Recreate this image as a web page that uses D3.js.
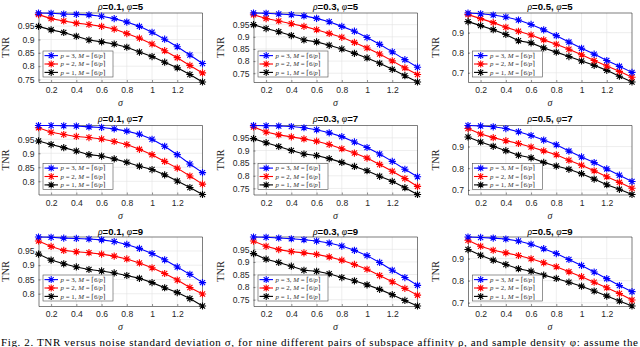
<!DOCTYPE html>
<html><head><meta charset="utf-8">
<script src="https://cdn.jsdelivr.net/npm/d3@7"></script>
<style>body{margin:0;background:#fff;} svg{display:block;}</style>
</head><body>
<svg id="c" width="640" height="347"></svg>
<script>
// ---------- data ----------
const sigma = [0.1,0.2,0.3,0.4,0.5,0.6,0.7,0.8,0.9,1.0,1.1,1.2,1.3,1.4];
const xTicks = [0.2,0.4,0.6,0.8,1,1.2];
const rhoVals = [0.1,0.3,0.5];
const phiVals = [5,7,9];
const yTicksByRho = [[0.75,0.8,0.85,0.9,0.95],[0.75,0.8,0.85,0.9,0.95],[0.7,0.8,0.9]];
const seriesP = [3,2,1];
const seriesColors = ["#0000ff","#ff0000","#000000"];

// rho=0.1
const r1f5_p3 = [0.999,0.998,0.995,0.994,0.992,0.987,0.978,0.965,0.949,0.927,0.901,0.873,0.842,0.810];
const r1f5_p2 = [0.993,0.978,0.969,0.961,0.956,0.949,0.939,0.922,0.905,0.883,0.858,0.832,0.803,0.775];
const r1f5_p1 = [0.949,0.936,0.926,0.912,0.898,0.891,0.883,0.871,0.853,0.836,0.815,0.794,0.769,0.741];
const r1f7_p3 = [0.999,0.999,0.998,0.997,0.994,0.992,0.987,0.979,0.968,0.950,0.925,0.895,0.862,0.831];
const r1f7_p2 = [0.991,0.975,0.967,0.960,0.956,0.951,0.942,0.931,0.914,0.895,0.871,0.847,0.819,0.790];
const r1f7_p1 = [0.944,0.931,0.920,0.908,0.895,0.890,0.880,0.868,0.854,0.842,0.823,0.801,0.778,0.753];
const r1f9_p3 = [0.999,0.998,0.995,0.994,0.992,0.989,0.983,0.973,0.959,0.941,0.919,0.894,0.868,0.839];
const r1f9_p2 = [0.985,0.966,0.952,0.947,0.944,0.939,0.932,0.922,0.908,0.891,0.871,0.848,0.822,0.799];
const r1f9_p1 = [0.939,0.918,0.905,0.894,0.885,0.880,0.873,0.864,0.854,0.839,0.821,0.804,0.783,0.757];
// rho=0.3
const r3f5_p3 = [0.998,0.997,0.994,0.991,0.986,0.976,0.962,0.943,0.923,0.897,0.869,0.838,0.806,0.775];
const r3f5_p2 = [0.991,0.975,0.965,0.954,0.943,0.929,0.914,0.898,0.877,0.854,0.829,0.801,0.772,0.745];
const r3f5_p1 = [0.950,0.934,0.921,0.905,0.887,0.879,0.865,0.850,0.832,0.813,0.791,0.766,0.740,0.714];
const r3f7_p3 = [0.999,0.998,0.997,0.995,0.990,0.982,0.970,0.955,0.934,0.912,0.886,0.857,0.826,0.796];
const r3f7_p2 = [0.993,0.973,0.962,0.954,0.946,0.937,0.924,0.907,0.890,0.870,0.845,0.818,0.789,0.758];
const r3f7_p1 = [0.947,0.931,0.916,0.900,0.886,0.880,0.868,0.853,0.837,0.820,0.798,0.778,0.753,0.726];
const r3f9_p3 = [0.999,0.998,0.995,0.992,0.988,0.983,0.975,0.963,0.946,0.925,0.898,0.867,0.838,0.807];
const r3f9_p2 = [0.983,0.962,0.949,0.941,0.936,0.930,0.920,0.907,0.890,0.871,0.846,0.821,0.795,0.768];
const r3f9_p1 = [0.933,0.911,0.898,0.883,0.867,0.863,0.853,0.838,0.825,0.809,0.791,0.770,0.747,0.725];
// rho=0.5
const r5f5_p3 = [0.998,0.994,0.988,0.978,0.963,0.941,0.914,0.885,0.853,0.822,0.793,0.761,0.732,0.702];
const r5f5_p2 = [0.990,0.970,0.950,0.927,0.907,0.888,0.864,0.842,0.817,0.790,0.761,0.734,0.707,0.678];
const r5f5_p1 = [0.955,0.935,0.915,0.891,0.860,0.849,0.824,0.803,0.781,0.759,0.737,0.712,0.683,0.654];
const r5f7_p3 = [0.997,0.995,0.991,0.983,0.968,0.951,0.930,0.908,0.879,0.852,0.826,0.797,0.768,0.739];
const r5f7_p2 = [0.983,0.958,0.941,0.927,0.914,0.898,0.880,0.862,0.837,0.814,0.788,0.761,0.735,0.708];
const r5f7_p1 = [0.944,0.921,0.901,0.881,0.860,0.848,0.827,0.810,0.795,0.775,0.750,0.724,0.703,0.679];
const r5f9_p3 = [0.998,0.996,0.993,0.989,0.980,0.965,0.945,0.923,0.896,0.869,0.839,0.809,0.778,0.750];
const r5f9_p2 = [0.983,0.956,0.938,0.926,0.914,0.899,0.881,0.863,0.840,0.818,0.793,0.768,0.742,0.712];
const r5f9_p1 = [0.941,0.915,0.893,0.873,0.854,0.843,0.825,0.810,0.793,0.775,0.753,0.730,0.708,0.685];

const panelSeries = [
  [[r1f5_p3,r1f5_p2,r1f5_p1],[r3f5_p3,r3f5_p2,r3f5_p1],[r5f5_p3,r5f5_p2,r5f5_p1]],
  [[r1f7_p3,r1f7_p2,r1f7_p1],[r3f7_p3,r3f7_p2,r3f7_p1],[r5f7_p3,r5f7_p2,r5f7_p1]],
  [[r1f9_p3,r1f9_p2,r1f9_p1],[r3f9_p3,r3f9_p2,r3f9_p1],[r5f9_p3,r5f9_p2,r5f9_p1]]
];
const captionText = "Fig. 2.  TNR versus noise standard deviation σ, for nine different pairs of subspace affinity ρ, and sample density φ: assume the";

// ---------- layout ----------
const colLeft = [38.5, 253.5, 468];
const plotW = 164;
const rowTop = [13, 125.5, 237];
const plotH = 69;

const svg = d3.select("#c");
const sans = "Liberation Sans, Arial, Helvetica, sans-serif";
const serif = "Liberation Serif, Times New Roman, DejaVu Serif, serif";
const axisCol = "#262626";

function starPath(r){
  const d = r*0.72;
  return `M${-r},0L${r},0M0,${-r}L0,${r}M${-d},${-d}L${d},${d}M${-d},${d}L${d},${-d}`;
}

for (let ri=0; ri<3; ri++){
  for (let ci=0; ci<3; ci++){
    const series = panelSeries[ri][ci];
    const all = series.flat();
    const x = d3.scaleLinear().domain([sigma[0], sigma[sigma.length-1]]).range([0, plotW]);
    const y = d3.scaleLinear().domain([d3.min(all), d3.max(all)]).range([plotH, 0]);
    const yT = yTicksByRho[ci].filter(t => t>=y.domain()[0] && t<=y.domain()[1]);
    const g = svg.append("g").attr("transform", `translate(${colLeft[ci]},${rowTop[ri]})`);

    // grid
    g.append("g").selectAll("line").data(xTicks).join("line")
      .attr("x1", d=>x(d)).attr("x2", d=>x(d)).attr("y1",0).attr("y2",plotH)
      .attr("stroke","#e3e3e3").attr("stroke-width",0.6);
    g.append("g").selectAll("line").data(yT).join("line")
      .attr("y1", d=>y(d)).attr("y2", d=>y(d)).attr("x1",0).attr("x2",plotW)
      .attr("stroke","#e3e3e3").attr("stroke-width",0.6);

    // axes
    const fmt = d => String(+d.toFixed(2));
    const xa = g.append("g").attr("transform",`translate(0,${plotH})`)
      .call(d3.axisBottom(x).tickValues(xTicks).tickFormat(fmt).tickSizeInner(-2).tickSizeOuter(0).tickPadding(5));
    const ya = g.append("g")
      .call(d3.axisLeft(y).tickValues(yT).tickFormat(fmt).tickSizeInner(-2).tickSizeOuter(0).tickPadding(4));
    [xa, ya].forEach(a => {
      a.select(".domain").attr("stroke", axisCol).attr("stroke-width",0.6);
      a.selectAll(".tick line").attr("stroke", axisCol).attr("stroke-width",0.5);
      a.selectAll(".tick text").attr("fill", axisCol).style("font-family", sans).style("font-size","8.6px");
    });
    g.append("line").attr("x1",0).attr("x2",plotW).attr("y1",0).attr("y2",0).attr("stroke",axisCol).attr("stroke-width",0.6);
    g.append("line").attr("x1",plotW).attr("x2",plotW).attr("y1",0).attr("y2",plotH).attr("stroke",axisCol).attr("stroke-width",0.6);

    // lines and markers
    const line = d3.line().x((d,i)=>x(sigma[i])).y(d=>y(d));
    for (let si=series.length-1; si>=0; si--){
      const s = series[si];
      g.append("path").datum(s).attr("d", line).attr("fill","none")
        .attr("stroke", seriesColors[si]).attr("stroke-width",1.1);
      g.append("g").selectAll("path").data(s).join("path")
        .attr("transform",(d,i)=>`translate(${x(sigma[i])},${y(d)})`)
        .attr("d", starPath(3.6)).attr("fill","none")
        .attr("stroke", seriesColors[si]).attr("stroke-width",1.1);
    }

    // legend
    const lw = 70, lh = 26;
    const lx = 4.5, ly = plotH - 5 - lh;
    const lg = g.append("g").attr("transform",`translate(${lx},${ly})`);
    lg.append("rect").attr("width",lw).attr("height",lh).attr("fill","#fff")
      .attr("stroke","#4d4d4d").attr("stroke-width",0.6);
    seriesP.forEach((p,si)=>{
      const yy = 4.6 + si*8.4;
      lg.append("line").attr("x1",1.5).attr("x2",15).attr("y1",yy).attr("y2",yy)
        .attr("stroke",seriesColors[si]).attr("stroke-width",1.1);
      lg.append("path").attr("transform",`translate(8.2,${yy})`).attr("d",starPath(3.5))
        .attr("fill","none").attr("stroke",seriesColors[si]).attr("stroke-width",1.05);
      const t = lg.append("text").attr("x",17.5).attr("y",yy+2.2)
        .style("font-family",serif).style("font-size","6.9px").attr("fill","#333");
      t.append("tspan").style("font-style","italic").text("p");
      t.append("tspan").text(` = ${p}, `);
      t.append("tspan").style("font-style","italic").text("M");
      t.append("tspan").text(" = ⌈6/");
      t.append("tspan").style("font-style","italic").text("p");
      t.append("tspan").text("⌉");
    });

    // title
    const tt = g.append("text").attr("x", plotW/2).attr("y", ri===2 ? -2.5 : -3.5)
      .attr("text-anchor","middle").attr("fill","#000").style("font-size","9.6px");
    tt.append("tspan").style("font-family",serif).style("font-style","italic").text("ρ");
    tt.append("tspan").style("font-family",sans).style("font-weight","bold").text(`=${rhoVals[ci]}, `);
    tt.append("tspan").style("font-family",serif).style("font-style","italic").text("φ");
    tt.append("tspan").style("font-family",sans).style("font-weight","bold").text(`=${phiVals[ri]}`);

    // axis labels
    g.append("text").attr("transform",`translate(${ci===2?-29:-30},${plotH/2}) rotate(-90)`)
      .attr("text-anchor","middle").style("font-family",serif).style("font-size","10.5px")
      .attr("fill","#262626").text("TNR");
    g.append("text").attr("x",plotW/2).attr("y",plotH+24).attr("text-anchor","middle")
      .style("font-family",serif).style("font-style","italic").style("font-size","10px")
      .attr("fill","#262626").text("σ");
  }
}

// caption (partly cut by the bottom edge, as in the reference)
svg.append("text").attr("x",1).attr("y",346)
  .attr("textLength",637).attr("lengthAdjust","spacing")
  .style("font-family",serif).style("font-size","11px").attr("fill","#000")
  .text(captionText);
</script>
</body></html>
